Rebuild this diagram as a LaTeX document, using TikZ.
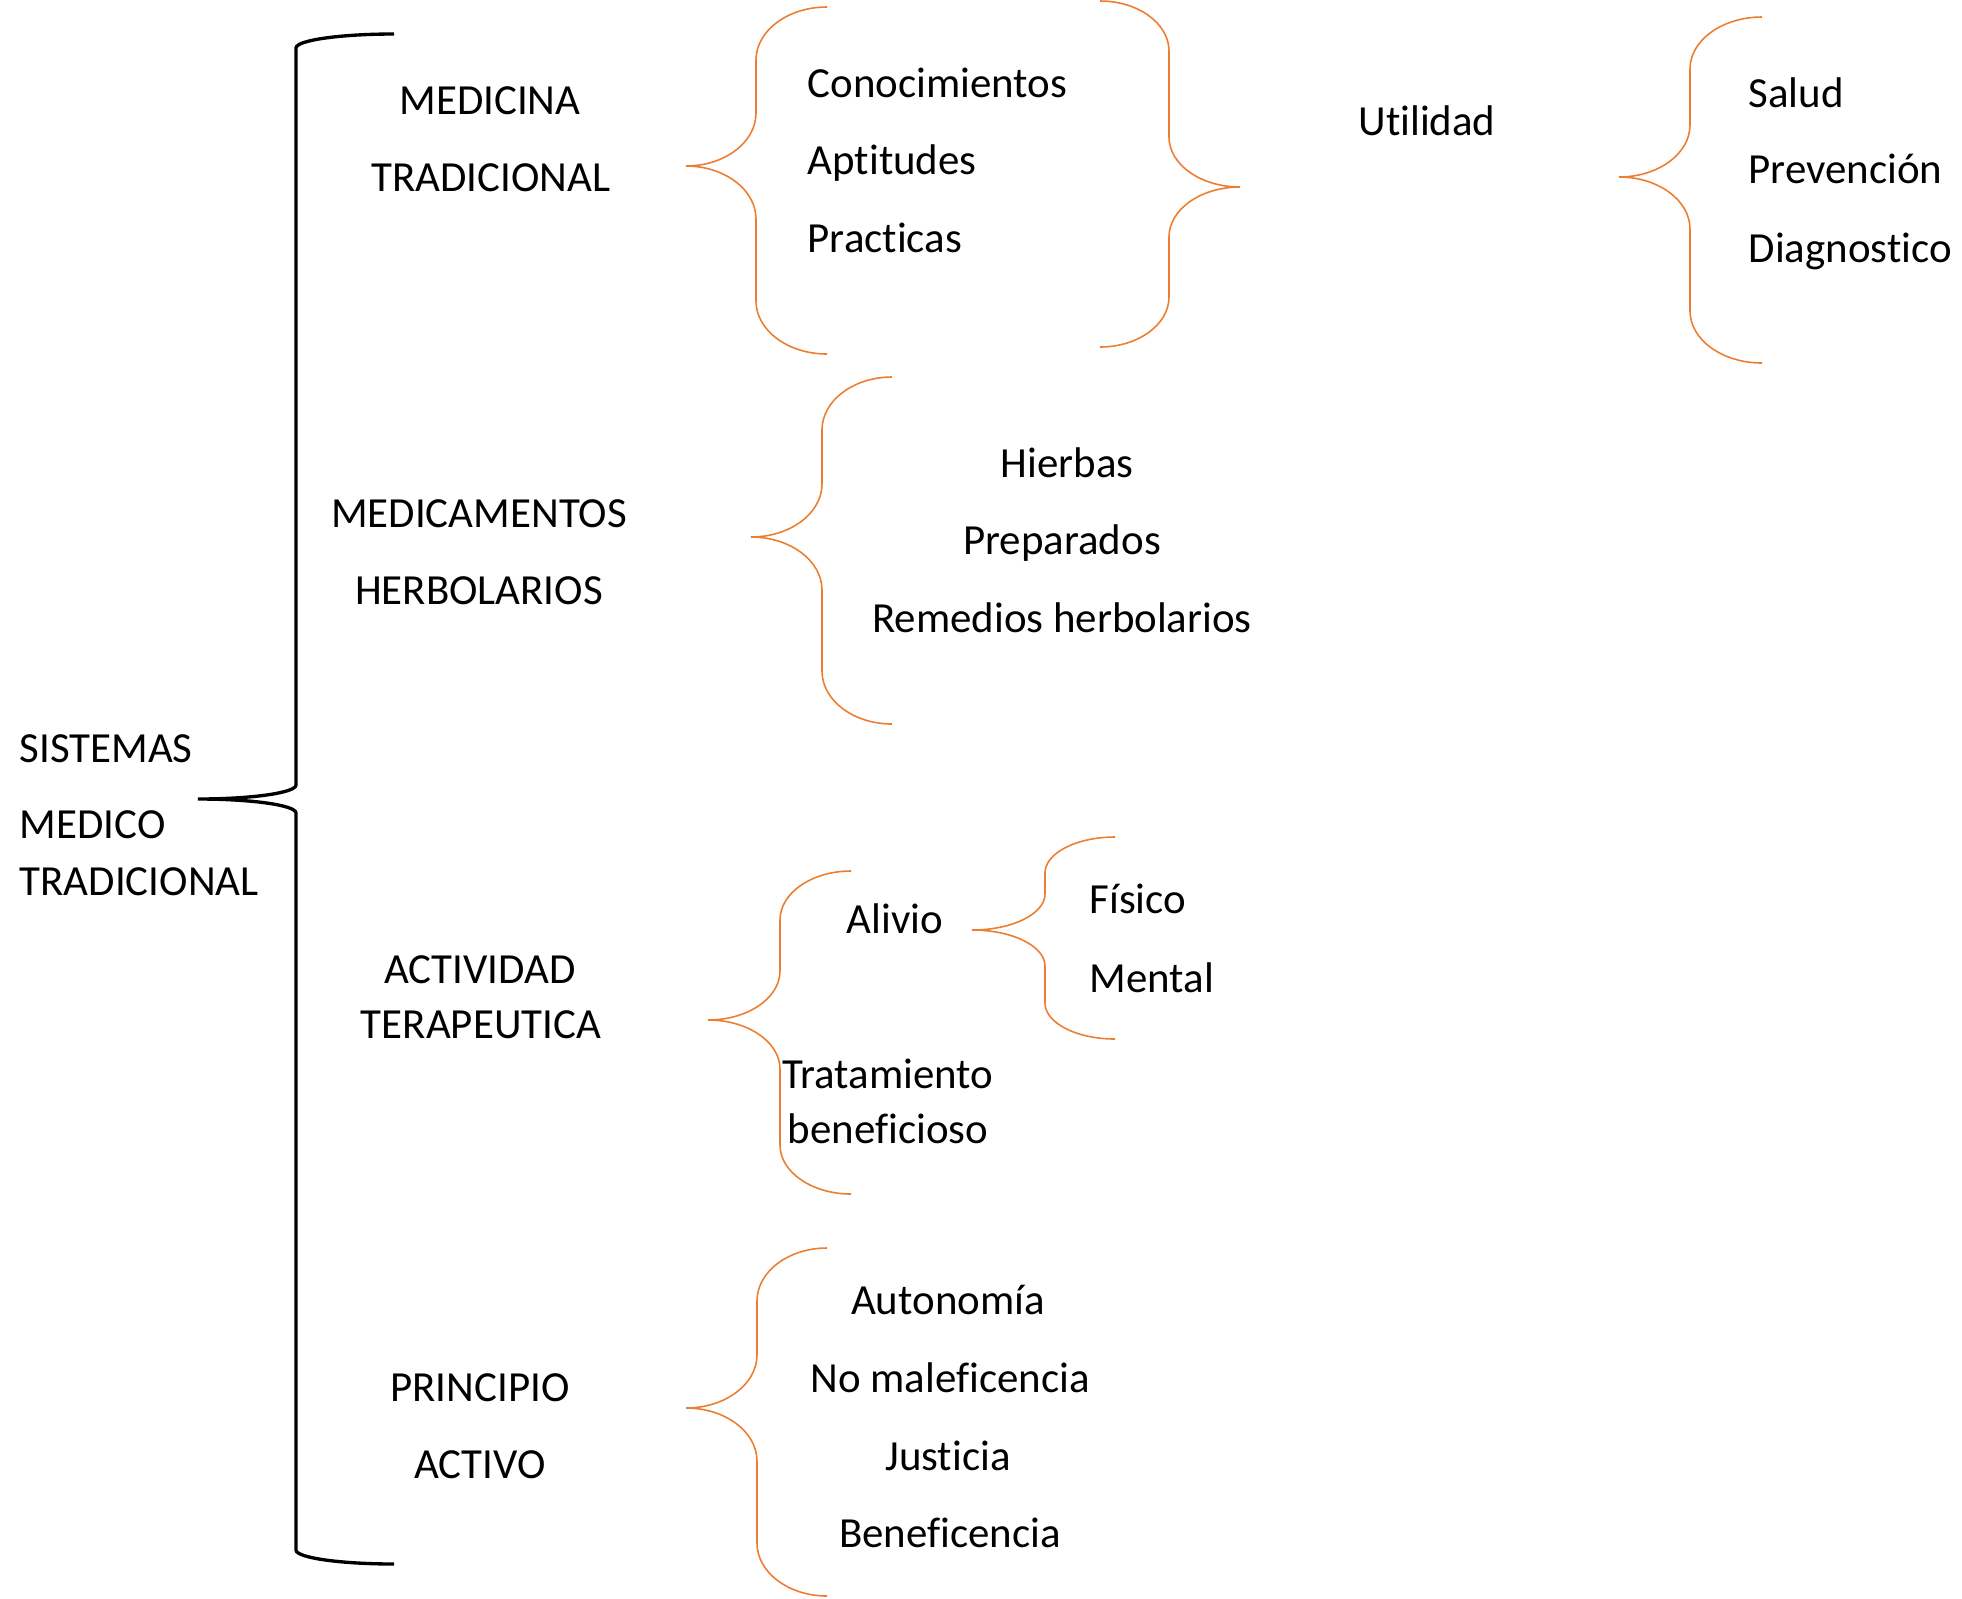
\documentclass[tikz,border=0pt]{standalone}
\usepackage{fontspec}
\setmainfont{Carlito}[Ligatures=NoCommon]
\definecolor{naranja}{HTML}{ED7D31}

% llave: estilo, x extremo, x vertical, x punta, y arriba, y punta, y abajo, radio
\newcommand{\llave}[8]{%
  \draw[#1] (#2,#5) .. controls ({#2-0.552*(#2-#3)},#5) and (#3,{#5+0.448*#8}) .. (#3,{#5+#8})
    -- (#3,{#6-#8}) .. controls (#3,{#6-0.448*#8}) and ({#4+0.552*(#3-#4)},#6) .. (#4,#6)
    .. controls ({#4+0.552*(#3-#4)},#6) and (#3,{#6+0.448*#8}) .. (#3,{#6+#8})
    -- (#3,{#7-#8}) .. controls (#3,{#7-0.448*#8}) and ({#2-0.552*(#2-#3)},#7) .. (#2,#7);}

\begin{document}
\begin{tikzpicture}[x=0.01cm,y=-0.01cm,
    txt/.style={inner sep=0pt,anchor=base,font=\fontsize{12.2pt}{14pt}\selectfont},
    izq/.style={txt,anchor=base west},
    negra/.style={draw=black,line width=0.95pt},
    naranjo/.style={draw=naranja,line width=0.45pt}]
                % \helpgrid
                \useasboundingbox (0,0) rectangle (1962,1599);

                % llaves
                \llave{negra}{394}{296}{198}{34}{799}{1564}{14}
                \llave{naranjo}{827}{756}{686}{7}{166}{354}{53}
                \llave{naranjo}{1100}{1169}{1240}{1}{187}{347}{50}
                \llave{naranjo}{1762}{1690}{1619}{17}{177}{363}{52}
                \llave{naranjo}{892}{822}{751}{377}{537}{724}{53}
                \llave{naranjo}{851}{780}{708}{871}{1020}{1194}{49}
                \llave{naranjo}{1115}{1045}{972}{837}{930}{1039}{36}
                \llave{naranjo}{827}{757}{686}{1248}{1408}{1596}{53}

                \node[izq] (sistemas) at (19,762) {SISTEMAS};
                \node[izq] (medico) at (19,838) {MEDICO};
                \node[izq] (tradicional) at (19,895) {TRADICIONAL};

                \node[txt] (medicina) at (490,114) {MEDICINA};
                \node[txt] (tradicionalb) at (491,191) {TRADICIONAL};
                \node[txt] (medicamentos) at (479,527) {MEDICAMENTOS};
                \node[txt] (herbolarios) at (479,604) {HERBOLARIOS};
                \node[txt] (actividad) at (480,983) {ACTIVIDAD};
                \node[txt] (terapeutica) at (481,1038) {TERAPEUTICA};
                \node[txt] (principio) at (480,1401) {PRINCIPIO};
                \node[txt] (activo) at (480,1478) {ACTIVO};

                \node[izq] (conocimientos) at (807,97) {Conocimientos};
                \node[izq] (aptitudes) at (807,174) {Aptitudes};
                \node[izq] (practicas) at (807,252) {Practicas};
                \node[txt] (utilidad) at (1427,135) {Utilidad};
                \node[izq] (salud) at (1748,107) {Salud};
                \node[izq] (prevencion) at (1748,183) {Prevención};
                \node[izq] (diagnostico) at (1748,262) {Diagnostico};

                \node[txt] (hierbas) at (1067,477) {Hierbas};
                \node[txt] (preparados) at (1062,554) {Preparados};
                \node[txt] (remedios) at (1062,632) {Remedios herbolarios};

                \node[izq] (alivio) at (846,933) {Alivio};
                \node[izq] (fisico) at (1089,913) {Físico};
                \node[izq] (mental) at (1089,992) {Mental};
                \node[txt] (tratamiento) at (888,1088) {Tratamiento};
                \node[txt] (beneficioso) at (888,1143) {beneficioso};

                \node[txt] (autonomia) at (948,1314) {Autonomía};
                \node[txt] (nomaleficencia) at (950,1392) {No maleficencia};
                \node[txt] (justicia) at (948,1470) {Justicia};
                \node[txt] (beneficencia) at (950,1547) {Beneficencia};

\end{tikzpicture}
\end{document}
